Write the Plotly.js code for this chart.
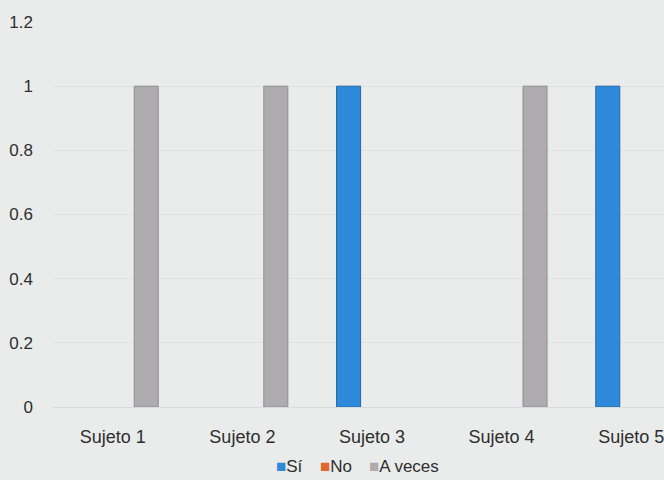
<!DOCTYPE html>
<html>
<head>
<meta charset="utf-8">
<script src="https://cdn.plot.ly/plotly-3.0.1.min.js"></script>
<style>
  html, body { margin: 0; padding: 0; background: #e9ecea; overflow: hidden; }
  #chart { width: 701px; height: 480px; }
</style>
</head>
<body>
<div id="chart"></div>
<script>
// Respuestas por sujeto
const sujetos = ["Sujeto 1", "Sujeto 2", "Sujeto 3", "Sujeto 4", "Sujeto 5"];
const si      = [0, 0, 1, 0, 1];
const no      = [0, 0, 0, 0, 0];
const aVeces  = [1, 1, 0, 1, 0];
const yTicks  = [0, 0.2, 0.4, 0.6, 0.8, 1, 1.2];

const series = [
  { name: "Sí",      values: si,     color: "#2f89da", edge: "#2468a8" },
  { name: "No",      values: no,     color: "#e0652f", edge: "#b04c22" },
  { name: "A veces", values: aVeces, color: "#afacaf", edge: "#8f8c8f" }
];

const fontFamily = "Liberation Sans, Arial, sans-serif";
const textColor = "#2e2e2e";

// Thin darker outline only on bars that have height
const traces = series.map(s => ({
  type: "bar",
  name: s.name,
  x: sujetos,
  y: s.values,
  marker: {
    color: s.color,
    line: { color: s.edge, width: s.values.map(v => (v > 0 ? 1 : 0)) }
  },
  showlegend: false
}));

// Compact legend row: small coloured square right next to each name
const legendX = [0.341, 0.409, 0.485];
const legendItems = series.map((s, i) => ({
  xref: "paper", yref: "paper",
  x: legendX[i], y: -0.155,
  xanchor: "left", yanchor: "middle",
  showarrow: false,
  text: '<span style="color:' + s.color + ';font-size:17px">■</span>' + s.name,
  font: { family: fontFamily, size: 17, color: textColor }
}));

const layout = {
  width: 701,
  height: 480,
  paper_bgcolor: "#e9ecea",
  plot_bgcolor: "#e9ecea",
  font: { family: fontFamily, size: 17, color: textColor },
  margin: { l: 53, r: 0, t: 22, b: 73 },
  barmode: "group",
  bargap: 0.342,
  bargroupgap: 0.155,
  showlegend: false,
  annotations: legendItems,
  xaxis: {
    type: "category",
    showgrid: false,
    showline: false,
    zeroline: false,
    ticks: "",
    tickfont: { size: 18 },
    ticklabelstandoff: 17,
    ticklabelshift: -5
  },
  yaxis: {
    range: [0, 1.2],
    tickvals: yTicks,
    ticktext: yTicks.map(v => String(v)),
    showgrid: true,
    gridcolor: "#dde1df",
    gridwidth: 1,
    zeroline: true,
    zerolinecolor: "#d8dcda",
    showline: false,
    ticks: "",
    tickfont: { size: 17 },
    ticklabelstandoff: 19
  }
};

Plotly.newPlot("chart", traces, layout, { displayModeBar: false, staticPlot: true });
</script>
</body>
</html>
